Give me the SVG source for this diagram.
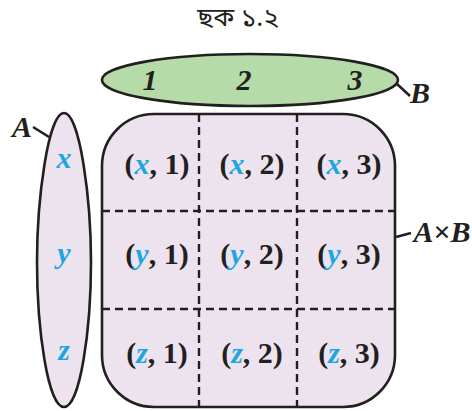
<svg xmlns="http://www.w3.org/2000/svg" width="472" height="411" viewBox="0 0 472 411">
<style>
.t{font-family:"Liberation Serif","Times New Roman",serif;font-weight:bold;fill:#231f20}
.i{font-style:italic}
.b{fill:#1ba6e2;font-style:italic}
.cell{font-size:30px;text-anchor:middle}
.dash{stroke:#231f20;stroke-width:2.4;stroke-dasharray:8,5;fill:none}
.edge{stroke:#231f20;stroke-width:2.6}
</style>
<text x="238" y="26" font-family="'Noto Sans Bengali','Noto Serif Bengali','Noto Sans',sans-serif" font-size="26" text-anchor="middle" fill="#231f20">ছক ১.২</text>
<g id="nodeB">
<ellipse cx="250" cy="80" rx="148" ry="26" fill="#b5dba9" stroke="#231f20" stroke-width="2.6"/>
<text class="t i" x="150" y="90" font-size="30" text-anchor="middle">1</text>
<text class="t i" x="244" y="90" font-size="30" text-anchor="middle">2</text>
<text class="t i" x="355" y="90" font-size="30" text-anchor="middle">3</text>
<text class="t i" x="420" y="103" font-size="30" text-anchor="middle">B</text>
</g>
<g id="nodeA">
<path d="M64 113C80 113 91 200 91 262C91 330 80 407 64 407C48 407 37 330 37 262C37 200 48 113 64 113Z" fill="#ede3ef" stroke="#231f20" stroke-width="2.6"/>
<text class="t i" x="22" y="137" font-size="30" text-anchor="middle">A</text>
<text class="t b" x="64" y="168" font-size="30" text-anchor="middle">x</text>
<text class="t b" x="64" y="263" font-size="30" text-anchor="middle">y</text>
<text class="t b" x="64" y="360" font-size="30" text-anchor="middle">z</text>
</g>
<g id="nodeAxB">
<rect x="102" y="114" width="293" height="293" rx="52" ry="52" fill="#ede3ef" stroke="#231f20" stroke-width="2.6"/>
<path class="dash" d="M199 114V407M297 114V407M102 211H395M102 309H395"/>
<text class="t" x="442" y="242" font-size="30" text-anchor="middle"><tspan class="i">A</tspan>×<tspan class="i">B</tspan></text>
<text class="t cell" x="157" y="174">(<tspan class="b">x</tspan>, 1)</text>
<text class="t cell" x="252" y="174">(<tspan class="b">x</tspan>, 2)</text>
<text class="t cell" x="349" y="174">(<tspan class="b">x</tspan>, 3)</text>
<text class="t cell" x="157" y="264">(<tspan class="b">y</tspan>, 1)</text>
<text class="t cell" x="252" y="264">(<tspan class="b">y</tspan>, 2)</text>
<text class="t cell" x="349" y="264">(<tspan class="b">y</tspan>, 3)</text>
<text class="t cell" x="157" y="363">(<tspan class="b">z</tspan>, 1)</text>
<text class="t cell" x="252" y="363">(<tspan class="b">z</tspan>, 2)</text>
<text class="t cell" x="349" y="363">(<tspan class="b">z</tspan>, 3)</text>
</g>
<g id="connectors">
<line class="edge" x1="397" y1="84" x2="410" y2="96"/>
<line class="edge" x1="33" y1="127" x2="49" y2="137"/>
<line class="edge" x1="396" y1="237" x2="411" y2="233"/>
</g>
</svg>
